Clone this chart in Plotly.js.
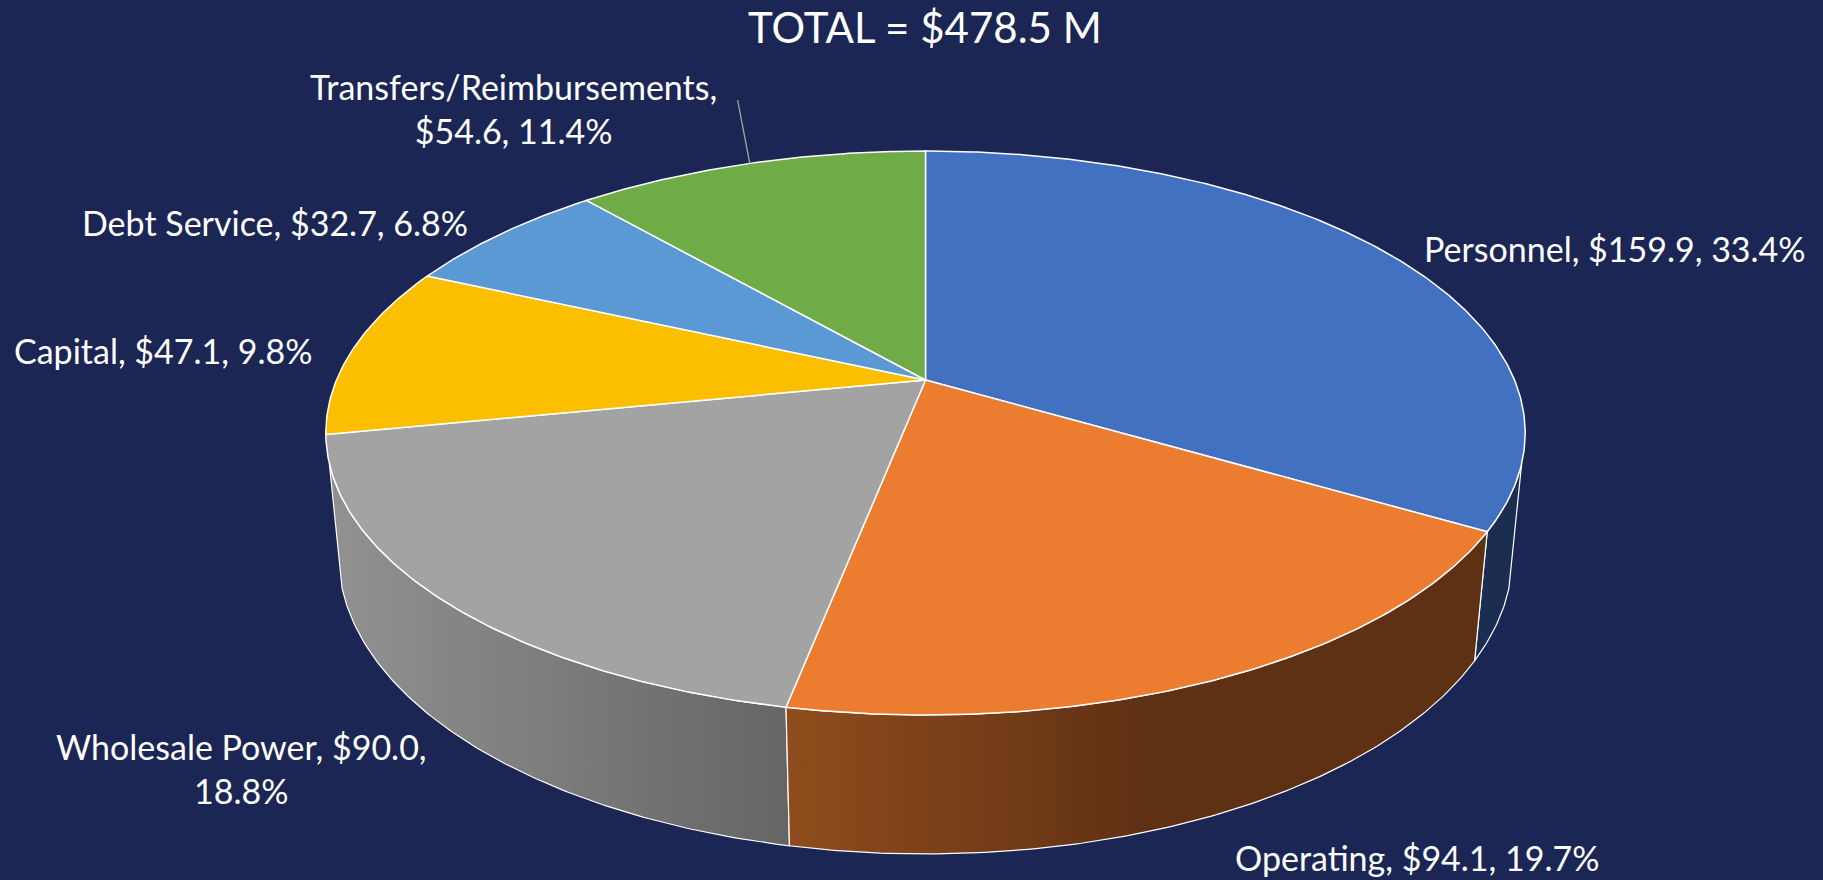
<!DOCTYPE html>
<html>
<head>
<meta charset="utf-8">
<script src="https://cdn.plot.ly/plotly-3.0.1.min.js"></script>
<style>html,body{margin:0;padding:0;background:#1B2654;overflow:hidden}#chart{width:1823px;height:880px}</style>
</head>
<body>
<div id="chart"></div>
<script>
// ---- Data ----
const titleText = 'TOTAL = $478.5 M';
const categories = ['Personnel', 'Operating', 'Wholesale Power', 'Capital', 'Debt Service', 'Transfers/Reimbursements'];
const amounts = [159.9, 94.1, 90.0, 47.1, 32.7, 54.6];
const percents = [33.4, 19.7, 18.8, 9.8, 6.8, 11.4];
const sliceColors = ['#4371C2', '#EB7C30', '#A3A3A3', '#FBBF00', '#5A99D4', '#6FAB46'];

// ---- Styling and placement ----
const labelBreak = ['after-none', 'after-none', 'before-pct', 'after-none', 'after-none', 'before-amount'];
const labelX = [1615, 1417, 241, 163, 275, 513];
const labelY = [248, 857, 768, 350, 222, 108];
const BG = '#1B2654';
const FONT = 'Lato, Carlito, sans-serif';

// Perspective model of the disc, in picture pixels
const CX = 925.5, CY = 380, A = 589, B = 272, K = 0.188;
const M = 0.0208, H = 122.7, V_SIL = 0.29;

function topPt(deg) {
  const t = deg * Math.PI / 180, u = Math.sin(t), v = -Math.cos(t), d = 1 - K * v;
  return [CX + A * u / d, CY + B * v / d];
}
function bottomPt(deg) {
  const t = deg * Math.PI / 180, u = Math.sin(t), v = -Math.cos(t), d = 1 - K * v + M;
  return [CX + A * u / d, CY + (B * v + H) / d];
}
function arc(fn, a, b) {
  const n = Math.max(2, Math.ceil(Math.abs(b - a) / 0.5)), out = [];
  for (let i = 0; i <= n; i++) out.push(fn(a + (b - a) * i / n));
  return out;
}
function poly(points) { return { x: points.map(p => p[0]), y: points.map(p => p[1]) }; }

const total = amounts.reduce((s, v) => s + v, 0);
const edges = [0];
amounts.forEach(v => edges.push(edges[edges.length - 1] + v / total * 360));

const silRight = Math.acos(-V_SIL) * 180 / Math.PI;
const silLeft = 360 - silRight;

function wall(a, b, extra) {
  const pts = arc(topPt, a, b).concat(arc(bottomPt, b, a));
  pts.push(pts[0]);
  return Object.assign({
    type: 'scatter', mode: 'lines', ...poly(pts), fill: 'toself',
    line: { color: '#FFFFFF', width: 1.2 }, hoverinfo: 'skip', showlegend: false
  }, extra);
}

const traces = [
  wall(silRight, edges[1], { fillcolor: '#1C2E50' }),
  wall(edges[2], silLeft, {
    fillgradient: { type: 'horizontal', start: 345, stop: 790,
      colorscale: [[0, '#909090'], [1, '#656565']] }
  }),
  wall(edges[1], edges[2], {
    fillgradient: { type: 'horizontal', start: 790, stop: 1145,
      colorscale: [[0, '#8F4C1C'], [1, '#5F3114']] }
  })
];

categories.forEach((name, i) => {
  const pts = [[CX, CY]].concat(arc(topPt, edges[i], edges[i + 1]));
  pts.push([CX, CY]);
  traces.push({
    type: 'scatter', mode: 'lines', name, ...poly(pts), fill: 'toself',
    fillcolor: sliceColors[i], line: { color: '#FFFFFF', width: 1.5 },
    hoverinfo: 'name', showlegend: false
  });
});

// leader line of the Transfers label
const leaderEnd = topPt(edges[5] + (edges[6] - edges[5]) * 0.5);
traces.push({
  type: 'scatter', mode: 'lines', x: [737.6, leaderEnd[0]], y: [100, leaderEnd[1]],
  line: { color: '#A6A6A6', width: 1.3 }, hoverinfo: 'skip', showlegend: false
});

function labelText(i) {
  const a = '$' + amounts[i].toFixed(1), p = percents[i].toFixed(1) + '%', c = categories[i];
  if (labelBreak[i] === 'before-pct') return c + ', ' + a + ',<br>' + p;
  if (labelBreak[i] === 'before-amount') return c + ',<br>' + a + ', ' + p;
  return c + ', ' + a + ', ' + p;
}

const annotations = categories.map((c, i) => ({
  x: labelX[i], y: labelY[i], xref: 'x', yref: 'y', text: labelText(i), showarrow: false,
  xanchor: 'center', yanchor: 'middle', align: 'center',
  font: { family: FONT, size: 34, color: '#FFFFFF' }
}));
annotations.push({
  x: 925, y: 27, xref: 'x', yref: 'y', text: titleText, showarrow: false,
  xanchor: 'center', yanchor: 'middle',
  font: { family: FONT, size: 42, color: '#FFFFFF' }
});

Plotly.newPlot('chart', traces, {
  width: 1823, height: 880,
  margin: { l: 0, r: 0, t: 0, b: 0 },
  paper_bgcolor: BG, plot_bgcolor: BG,
  showlegend: false,
  xaxis: { range: [0, 1823], visible: false, fixedrange: true },
  yaxis: { range: [880, 0], visible: false, fixedrange: true },
  annotations
}, { displayModeBar: false, staticPlot: true });
</script>
</body>
</html>
